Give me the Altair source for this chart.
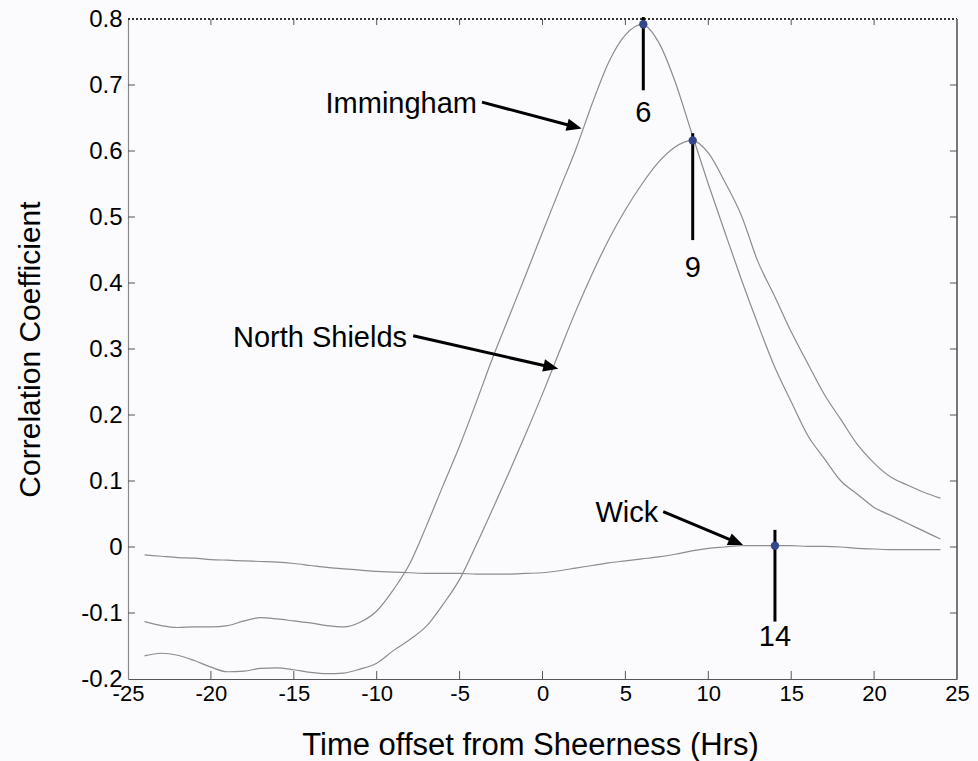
import math
import altair as alt
import pandas as pd

# ---------------- data ----------------
hours = list(range(-24, 25))

immingham = [
    -0.113, -0.119, -0.122, -0.121, -0.121, -0.119, -0.112, -0.107, -0.109, -0.112,
    -0.115, -0.119, -0.121, -0.114, -0.097, -0.065, -0.025, 0.032, 0.093, 0.153,
    0.219, 0.287, 0.350, 0.413, 0.477, 0.540, 0.602, 0.672, 0.735, 0.776,
    0.792, 0.765, 0.705, 0.627, 0.550, 0.477, 0.405, 0.337, 0.273, 0.220,
    0.169, 0.134, 0.100, 0.080, 0.060, 0.048, 0.036, 0.024, 0.012,
]

north_shields = [
    -0.165, -0.161, -0.164, -0.172, -0.182, -0.189, -0.188, -0.184, -0.183, -0.186,
    -0.190, -0.192, -0.191, -0.185, -0.176, -0.157, -0.140, -0.120, -0.087, -0.049,
    0.003, 0.058, 0.114, 0.172, 0.232, 0.295, 0.357, 0.414, 0.466, 0.511,
    0.550, 0.583, 0.606, 0.616, 0.597, 0.553, 0.502, 0.432, 0.380, 0.326,
    0.278, 0.231, 0.193, 0.155, 0.127, 0.106, 0.094, 0.083, 0.074,
]

wick = [
    -0.012, -0.014, -0.016, -0.017, -0.019, -0.020, -0.021, -0.022, -0.023, -0.025,
    -0.028, -0.031, -0.033, -0.035, -0.037, -0.038, -0.039, -0.040, -0.040, -0.040,
    -0.041, -0.041, -0.041, -0.040, -0.039, -0.036, -0.032, -0.028, -0.024, -0.021,
    -0.018, -0.015, -0.011, -0.006, -0.002, 0.000, 0.002, 0.002, 0.002, 0.002,
    0.001, 0.001, 0.000, -0.002, -0.003, -0.004, -0.004, -0.004, -0.004,
]

# peak markers with their pointer lines and labels
peak_hours = [6.08, 9.06, 14.02]
peak_values = [0.792, 0.616, 0.002]
peak_labels = ["6", "9", "14"]
pointer_top = [0.803, 0.627, 0.026]
pointer_bottom = [0.692, 0.465, -0.113]
peak_label_values = [0.644, 0.409, -0.150]

# station labels and arrows
station_names = ["Immingham", "North Shields", "Wick"]
text_x = [-3.95, -8.17, 6.98]
text_y = [0.657, 0.3035, 0.0383]
arrow_x1 = [-3.65, -7.8, 7.28]
arrow_y1 = [0.674, 0.32, 0.0535]
arrow_x2 = [2.36, 0.95, 12.1]
arrow_y2 = [0.634, 0.27, 0.003]

x_ticks = [-25, -20, -15, -10, -5, 0, 5, 10, 15, 20, 25]
y_ticks = [-0.2, -0.1, 0.0, 0.1, 0.2, 0.3, 0.4, 0.5, 0.6, 0.7, 0.8]

# ---------------- layout / style ----------------
W, H = 829, 660
X_DOMAIN = [-25, 25]
Y_DOMAIN = [-0.2, 0.8]
FONT = "Liberation Sans"
px_per_x = W / (X_DOMAIN[1] - X_DOMAIN[0])
px_per_y = H / (Y_DOMAIN[1] - Y_DOMAIN[0])

xs = alt.Scale(domain=X_DOMAIN, nice=False, zero=False)
ys = alt.Scale(domain=Y_DOMAIN, nice=False, zero=False)

curves = pd.DataFrame(
    {
        "hour": hours * 3,
        "r": immingham + north_shields + wick,
        "station": ["Immingham"] * len(hours) + ["North Shields"] * len(hours) + ["Wick"] * len(hours),
    }
)

peaks = pd.DataFrame(
    {
        "hour": peak_hours,
        "r": peak_values,
        "top": pointer_top,
        "bottom": pointer_bottom,
        "lab": peak_labels,
        "labr": peak_label_values,
    }
)

# arrow geometry (angle in screen space, shaft shortened under the head)
angles, sx2, sy2 = [], [], []
for x1, y1, x2, y2 in zip(arrow_x1, arrow_y1, arrow_x2, arrow_y2):
    dx = (x2 - x1) * px_per_x
    dy = -(y2 - y1) * px_per_y
    ln = math.hypot(dx, dy)
    angles.append(math.degrees(math.atan2(dx, -dy)) % 360)
    sx2.append(x2 - 9 * dx / ln / px_per_x)
    sy2.append(y2 + 9 * dy / ln / px_per_y)

arrows = pd.DataFrame(
    {
        "name": station_names,
        "tx": text_x,
        "ty": text_y,
        "x1": arrow_x1,
        "y1": arrow_y1,
        "x2": arrow_x2,
        "y2": arrow_y2,
        "sx2": sx2,
        "sy2": sy2,
        "angle": angles,
    }
)

xt = pd.DataFrame({"t": x_ticks[1:-1]})
yt = pd.DataFrame({"t": y_ticks[1:-1]})

x_axis = alt.Axis(
    values=x_ticks,
    labelExpr="toString(datum.value)",
    labelFont=FONT,
    labelFontSize=22,
    labelColor="black",
    labelPadding=4,
    labelFlush=False,
    labelOverlap=False,
    ticks=False,
    tickSize=0,
    grid=False,
    domainColor="#555555",
    domainWidth=1.2,
    title="Time offset from Sheerness (Hrs)",
    titleFont=FONT,
    titleFontSize=31,
    titleFontWeight="normal",
    titleColor="black",
    titleX=402,
    titleY=75,
    titleAlign="center",
    titleBaseline="alphabetic",
)

y_axis = alt.Axis(
    values=y_ticks,
    labelExpr="toString(round(datum.value * 10) / 10)",
    labelFont=FONT,
    labelFontSize=24,
    labelColor="black",
    labelPadding=6,
    labelFlush=False,
    labelOverlap=False,
    ticks=False,
    tickSize=0,
    grid=False,
    domainColor="#8a8a8a",
    domainWidth=1.2,
    title="Correlation Coefficient",
    titleFont=FONT,
    titleFontSize=30,
    titleFontWeight="normal",
    titleColor="black",
    titleX=-98,
    titleY=330,
    titleAngle=270,
    titleAlign="center",
    titleBaseline="middle",
)


def X(field):
    return alt.X(field, scale=xs, axis=x_axis)


def Y(field):
    return alt.Y(field, scale=ys, axis=y_axis)


lines = alt.Chart(curves).mark_line(
    interpolate="monotone", color="#8c8c8c", strokeWidth=1.2
).encode(x=X("hour:Q"), y=Y("r:Q"), detail="station:N")

pointers = alt.Chart(peaks).mark_rule(color="black", strokeWidth=3).encode(
    x=X("hour:Q"), y=Y("top:Q"), y2="bottom:Q"
)

markers = alt.Chart(peaks).mark_point(
    filled=True, shape="circle", size=70, color="#34468c", opacity=1
).encode(x=X("hour:Q"), y=Y("r:Q"))

peak_text = alt.Chart(peaks).mark_text(
    font=FONT, fontSize=29, color="black", align="center", baseline="alphabetic"
).encode(x=X("hour:Q"), y=Y("labr:Q"), text="lab:N")

shafts = alt.Chart(arrows).mark_rule(color="black", strokeWidth=3).encode(
    x=X("x1:Q"), y=Y("y1:Q"), x2="sx2:Q", y2="sy2:Q"
)

heads = alt.Chart(arrows).mark_point(
    shape="M0,0L-0.42,1L0.42,1Z", filled=True, size=900, color="black", opacity=1
).encode(x=X("x2:Q"), y=Y("y2:Q"), angle=alt.Angle("angle:Q", scale=None))

names = alt.Chart(arrows).mark_text(
    font=FONT, fontSize=29, color="black", align="right", baseline="alphabetic"
).encode(x=X("tx:Q"), y=Y("ty:Q"), text="name:N")

top_border = alt.Chart(xt).mark_rule(color="#333333", strokeWidth=1, strokeDash=[2, 2]).encode(
    x=alt.value(0), x2=alt.value(W), y=alt.value(0)
)
right_border = alt.Chart(xt).mark_rule(color="#777777", strokeWidth=1.2).encode(
    x=alt.value(W), y=alt.value(0), y2=alt.value(H)
)

tick_style = dict(color="#555555", strokeWidth=1)
left_ticks = alt.Chart(yt).mark_rule(**tick_style).encode(
    y=Y("t:Q"), x=alt.value(0), x2=alt.value(7)
)
right_ticks = alt.Chart(yt).mark_rule(**tick_style).encode(
    y=Y("t:Q"), x=alt.value(W - 7), x2=alt.value(W)
)
bottom_ticks = alt.Chart(xt).mark_rule(**tick_style).encode(
    x=X("t:Q"), y=alt.value(H - 8), y2=alt.value(H)
)
top_ticks = alt.Chart(xt).mark_rule(**tick_style).encode(
    x=X("t:Q"), y=alt.value(0), y2=alt.value(6)
)

chart = (
    alt.layer(
        lines,
        top_border,
        right_border,
        left_ticks,
        right_ticks,
        bottom_ticks,
        top_ticks,
        pointers,
        markers,
        peak_text,
        shafts,
        heads,
        names,
    )
    .properties(
        width=W,
        height=H,
        padding={"left": 128, "top": 19, "right": 21, "bottom": 82},
        autosize=alt.AutoSizeParams(type="none"),
        background="#fbfbfd",
    )
    .configure_view(stroke=None)
)

chart.save("out.html", embed_options={"renderer": "svg", "actions": False})
